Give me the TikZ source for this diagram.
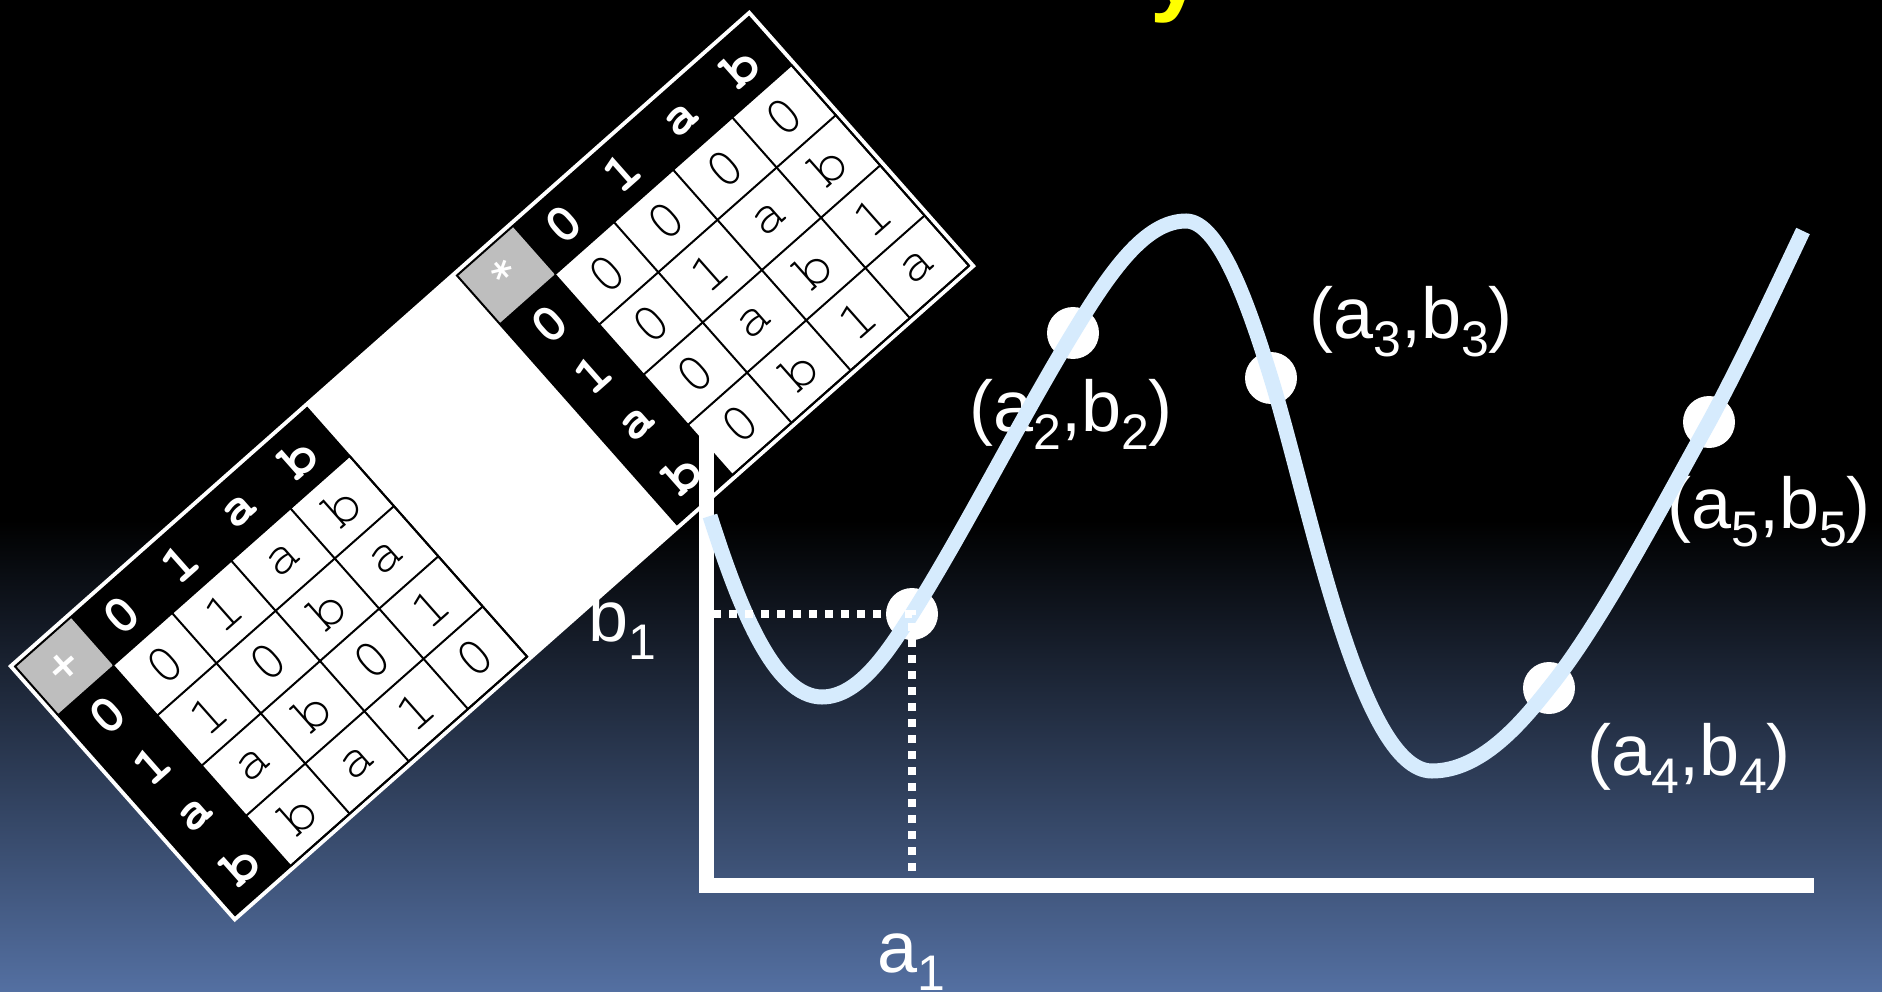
\documentclass[tikz,border=0pt]{standalone}
\usepackage{fontspec}
\setmainfont{Liberation Sans}
\newfontfamily\courfont{TeX Gyre Cursor}
\newfontfamily\symfont{DejaVu Sans}
\definecolor{bgbot}{RGB}{84,112,162}
\definecolor{curveblue}{RGB}{214,235,253}
\definecolor{cornergray}{RGB}{190,190,190}
\definecolor{titleyellow}{RGB}{255,255,0}
\newcommand{\sbs}[1]{\raisebox{-0.25em}{\fontsize{50}{50}\selectfont #1}}
\newcommand{\optable}[7]{%
  \fill[black] ({#2+5},5) rectangle ({#2+395},69);
  \fill[black] ({#2+5},5) rectangle ({#2+79},337);
  \fill[cornergray] ({#2+5},5) rectangle ({#2+79},69);
  \node[oplabel] (#1-op) at ({#2+42},37) {#3};
  \foreach \h [count=\i from 0] in {0,1,a,b} {
    \node[hdr] (#1-c\i) at ({#2+79+(\i+0.5)*79},37) {\h};
    \node[hdr] (#1-r\i) at ({#2+42},{69+(\i+0.5)*67}) {\h};
  }
  \foreach \row [count=\j from 0] in {{#4},{#5},{#6},{#7}} {
    \foreach \c [count=\i from 0] in \row {
      \node[cell] (#1-\j-\i) at ({#2+79+(\i+0.5)*79},{69+(\j+0.5)*67}) {\c};
    }
  }
  \foreach \k in {0,...,4} {
    \draw[gridline] ({#2+79+\k*79},69) -- ({#2+79+\k*79},337);
    \draw[gridline] ({#2+79},{69+\k*67}) -- ({#2+395},{69+\k*67});
  }
  \draw[gridline] ({#2+5},5) rectangle ({#2+395},337);
}
\begin{document}
\begin{tikzpicture}[x=1pt,y=-1pt,
  hdr/.style={text=white, font=\courfont\bfseries\fontsize{54}{54}\selectfont, inner sep=0},
  cell/.style={text=black, font=\courfont\fontsize{56}{56}\selectfont, inner sep=0},
  oplabel/.style={text=white, font=\symfont\bfseries\fontsize{40}{40}\selectfont, inner sep=0},
  gridline/.style={draw=black, line width=2},
  axisline/.style={draw=white, line width=15, line join=miter},
  dotline/.style={draw=white, line width=7.5, dash pattern=on 8 off 8},
  curveline/.style={draw=curveblue, line width=15},
  ptdot/.style={circle, fill=white, minimum size=52, inner sep=0},
  lab/.style={text=white, anchor=base west, inner sep=0, font=\fontsize{72}{72}\selectfont}]
\useasboundingbox (0,0) rectangle (1882,992);
\begin{scope}
\clip (0,0) rectangle (1882,992);
% background
\fill[black] (0,0) rectangle (1882,992);
\shade[top color=black, bottom color=bgbot] (0,520) rectangle (1882,993);
% cut-off title letter
\node[anchor=base west, inner sep=0, text=titleyellow, font=\bfseries\fontsize{95}{95}\selectfont] (title) at (1150,4) {y};
% rotated tables
\begin{scope}[shift={(8,666)}, rotate=41.5, transform shape]
  \fill[white] (0,0) rectangle (990,342);
  \optable{add}{0}{+}{0,1,a,b}{1,0,b,a}{a,b,0,1}{b,a,1,0}
  \optable{mul}{590}{*}{0,0,0,0}{0,1,a,b}{0,a,b,1}{0,b,1,a}
\end{scope}
% axes
\coordinate (ytop) at (706,430);
\coordinate (orig) at (706,885);
\coordinate (xend) at (1814,885);
\draw[axisline] (ytop) -- (orig) -- (xend);
% labels
\node[lab] (lb1) at (588,641) {b\sbs{1}};
\node[lab] (la1) at (877,972) {a\sbs{1}};
\node[lab] (l2) at (969,431) {(a\sbs{2},b\sbs{2})};
\node[lab] (l3) at (1309,338) {(a\sbs{3},b\sbs{3})};
\node[lab] (l4) at (1587,775) {(a\sbs{4},b\sbs{4})};
\node[lab] (l5) at (1667,528) {(a\sbs{5},b\sbs{5})};
% points
\node[ptdot] (p1) at (912,614) {};
\node[ptdot] (p2) at (1073,333) {};
\node[ptdot] (p3) at (1271,378) {};
\node[ptdot] (p4) at (1549,688) {};
\node[ptdot] (p5) at (1709,422) {};
% curve
\coordinate (cs) at (710,516);
\coordinate (m1) at (822,697);
\coordinate (mx) at (1186,221);
\coordinate (m2) at (1432,771);
\coordinate (ce) at (1803,231);
\draw[curveline] (cs) .. controls (740,610) and (775,697) .. (m1)
  .. controls (860,697) and (890,648) .. (p1.center)
  .. controls (965,530) and (1020,420) .. (p2.center)
  .. controls (1110,272) and (1145,221) .. (mx)
  .. controls (1220,221) and (1250,310) .. (p3.center)
  .. controls (1310,505) and (1360,771) .. (m2)
  .. controls (1480,771) and (1520,725) .. (p4.center)
  .. controls (1600,625) and (1660,510) .. (p5.center)
  .. controls (1740,365) and (1775,290) .. (ce);
% dotted guides
\coordinate (yb1) at (713,614);
\coordinate (xa1) at (912,876);
\draw[dotline] (yb1) -- (p1.center) -- (xa1);
\end{scope}
\end{tikzpicture}
\end{document}
